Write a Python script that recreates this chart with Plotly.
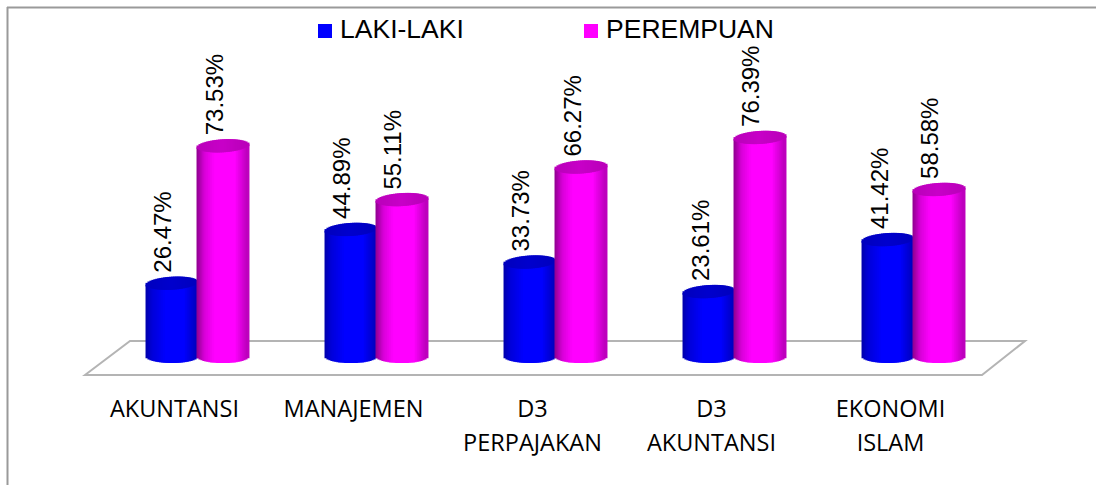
import numpy as np
import plotly.graph_objects as go

W, H = 1096, 485
CATEGORIES = ["AKUNTANSI", "MANAJEMEN", "D3 PERPAJAKAN", "D3 AKUNTANSI", "EKONOMI ISLAM"]
LABEL_ROW1 = ["AKUNTANSI", "MANAJEMEN", "D3", "D3", "EKONOMI"]
LABEL_ROW2 = ["", "", "PERPAJAKAN", "AKUNTANSI", "ISLAM"]
SERIES_NAMES = ["LAKI-LAKI", "PEREMPUAN"]
LAKI = [26.47, 44.89, 33.73, 23.61, 41.42]
PEREMPUAN = [73.53, 55.11, 66.27, 76.39, 58.58]

# scale: pixels of the picture -> data
X0_PX, X_STEP = 197.5, 179.0
Y0_PX, Y_STEP = 360.5, 2.92
xr = [(0 - X0_PX) / X_STEP, (W - X0_PX) / X_STEP]
yr = [(Y0_PX - H) / Y_STEP, Y0_PX / Y_STEP]
BAR_W = 51.0 / X_STEP
RY = 6.5 / Y_STEP
TILT = 1.5 / Y_STEP
FLOOR = (Y0_PX - 356.5) / Y_STEP
N = 26


def ramp(stops, u):
    ps = [s[0] for s in stops]
    return [int(round(np.interp(u, ps, [s[1][k] for s in stops]))) for k in range(3)]


BLUE_BODY = [(0, (0, 0, 170)), (0.12, (0, 0, 215)), (0.4, (0, 0, 255)), (0.75, (0, 0, 255)), (1, (0, 0, 190))]
BLUE_TOP = [(0, (0, 0, 190)), (0.5, (0, 0, 205)), (1, (0, 0, 190))]
MAG_BODY = [(0, (140, 0, 140)), (0.15, (215, 0, 215)), (0.35, (255, 0, 255)), (0.75, (255, 0, 255)), (1, (185, 0, 185))]
MAG_TOP = [(0, (185, 0, 185)), (0.5, (200, 0, 200)), (1, (185, 0, 185))]


def cylinder(values, side, body_stops, top_stops):
    xs, base_b, h_b, col_b, base_t, h_t, col_t = [], [], [], [], [], [], []
    for i, v in enumerate(values):
        for k in range(N):
            f = (k + 0.5) / N
            u = 2 * f - 1
            s = np.sqrt(1 - u * u)
            xs.append(i + side * BAR_W / 2 + (f - 0.5) * BAR_W)
            top_c = v + TILT * u
            b0 = FLOOR - RY * s
            base_b.append(b0)
            h_b.append(top_c - b0)
            col_b.append("rgb(%d,%d,%d)" % tuple(ramp(body_stops, f)))
            base_t.append(top_c - RY * s)
            h_t.append(2 * RY * s)
            col_t.append("rgb(%d,%d,%d)" % tuple(ramp(top_stops, f)))
    w = BAR_W / N * 2.0
    kw = dict(width=w, marker_line_width=0, marker_opacity=1, showlegend=False, hoverinfo="skip")
    return [
        go.Bar(x=xs, y=h_b, base=base_b, marker_color=col_b, **kw),
        go.Bar(x=xs, y=h_t, base=base_t, marker_color=col_t, **kw),
    ]


fig = go.Figure()
for tr in cylinder(LAKI, -1, BLUE_BODY, BLUE_TOP) + cylinder(PEREMPUAN, 1, MAG_BODY, MAG_TOP):
    fig.add_trace(tr)

# legend keys
for name, colr, px_x in ((SERIES_NAMES[0], "#0000ff", 325), (SERIES_NAMES[1], "#ff00ff", 591)):
    fig.add_trace(go.Scatter(
        x=[(px_x - X0_PX) / X_STEP], y=[(Y0_PX - 31) / Y_STEP], mode="markers+text", text=["\u2009" + name],
        textposition="middle right", name=name,
        marker=dict(symbol="square", size=14, color=colr),
        textfont=dict(family="Liberation Sans", size=26.5, color="#000000"),
        showlegend=False, hoverinfo="skip",
    ))

# category labels
LAB_SHIFT = -23.0 / X_STEP
ROW1_Y = (Y0_PX - 411) / Y_STEP
ROW2_Y = (Y0_PX - 445) / Y_STEP
pos = [i + LAB_SHIFT for i in range(len(CATEGORIES))]
lab_font = dict(family="Open Sans", size=23.5, color="#000000")
fig.add_trace(go.Scatter(x=pos, y=[ROW1_Y] * 5, text=LABEL_ROW1, mode="text", textposition="middle center",
                         textfont=lab_font, showlegend=False, hoverinfo="skip"))
fig.add_trace(go.Scatter(x=pos, y=[ROW2_Y] * 5, text=LABEL_ROW2, mode="text", textposition="middle center",
                         textfont=lab_font, showlegend=False, hoverinfo="skip"))


def px(x):
    return x / W


def py(y):
    return 1 - y / H


annotations = []
for side, vals in ((-1, LAKI), (1, PEREMPUAN)):
    for i, v in enumerate(vals):
        annotations.append(dict(
            x=i + side * BAR_W / 2, y=v + RY, xref="x", yref="y", text="%.2f%%" % v,
            textangle=-90, showarrow=False, xanchor="center", yanchor="bottom",
            xshift=-9, yshift=1.5, font=dict(family="Liberation Sans", size=24, color="#000000"),
        ))

floor = "M {} {} L {} {} L {} {} L {} {} Z".format(
    px(85), py(375), px(130), py(341), px(1025), py(341), px(982), py(375))
shapes = [
    dict(type="path", xref="paper", yref="paper", path=floor, layer="below",
         line=dict(color="#b4b4b4", width=2), fillcolor="#ffffff"),
    dict(type="line", xref="paper", yref="paper", x0=px(7.5), x1=px(7.5), y0=py(7), y1=py(485),
         line=dict(color="#9a9a9a", width=2)),
    dict(type="line", xref="paper", yref="paper", x0=px(7), x1=px(1096), y0=py(7.5), y1=py(7.5),
         line=dict(color="#9a9a9a", width=2)),
]

fig.update_layout(
    width=W, height=H, margin=dict(l=0, r=0, t=0, b=0),
    paper_bgcolor="white", plot_bgcolor="white", barmode="overlay",
    xaxis=dict(range=xr, visible=False, fixedrange=True),
    yaxis=dict(range=yr, visible=False, fixedrange=True),
    annotations=annotations, shapes=shapes, showlegend=False,
)
fig.write_html("out.html", config={"displayModeBar": False},
               post_script="document.body.style.margin='0';document.body.style.overflow='hidden';")
